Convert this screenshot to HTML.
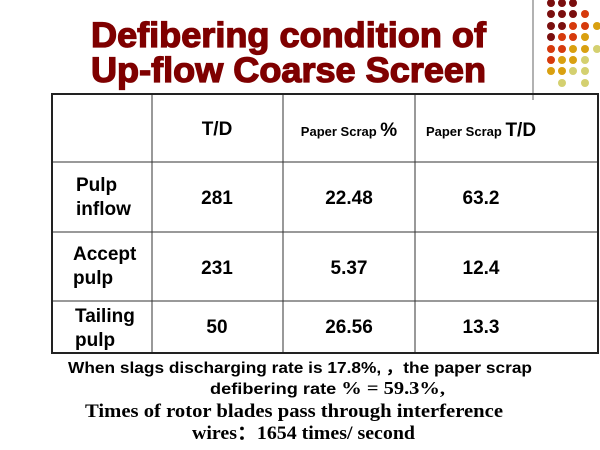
<!DOCTYPE html>
<html><head><style>body{margin:0;background:#fff}svg{display:block}</style></head>
<body>
<svg width="600" height="450" xmlns="http://www.w3.org/2000/svg" font-family="Liberation Sans, Arial, sans-serif">
<rect width="600" height="450" fill="#fff"/>
<line x1="533" y1="0" x2="533" y2="100" stroke="#999" stroke-width="1.5"/>
<g>
<circle cx="551" cy="3" r="4" fill="#7a0e0e"/><circle cx="562" cy="3" r="4" fill="#7a0e0e"/><circle cx="573" cy="3" r="4" fill="#7a0e0e"/>
<circle cx="551" cy="14" r="4" fill="#7a0e0e"/><circle cx="562" cy="14" r="4" fill="#7a0e0e"/><circle cx="573" cy="14" r="4" fill="#7a0e0e"/><circle cx="585" cy="14" r="4" fill="#d63a0c"/>
<circle cx="551" cy="26" r="4" fill="#7a0e0e"/><circle cx="562" cy="26" r="4" fill="#7a0e0e"/><circle cx="573" cy="26" r="4" fill="#d63a0c"/><circle cx="585" cy="26" r="4" fill="#d63a0c"/><circle cx="597" cy="26" r="4" fill="#d9a010"/>
<circle cx="551" cy="37" r="4" fill="#7a0e0e"/><circle cx="562" cy="37" r="4" fill="#d63a0c"/><circle cx="573" cy="37" r="4" fill="#d63a0c"/><circle cx="585" cy="37" r="4" fill="#d9a010"/>
<circle cx="551" cy="49" r="4" fill="#d63a0c"/><circle cx="562" cy="49" r="4" fill="#d63a0c"/><circle cx="573" cy="49" r="4" fill="#d9a010"/><circle cx="585" cy="49" r="4" fill="#d9a010"/><circle cx="597" cy="49" r="4" fill="#d4d070"/>
<circle cx="551" cy="60" r="4" fill="#d63a0c"/><circle cx="562" cy="60" r="4" fill="#d9a010"/><circle cx="573" cy="60" r="4" fill="#d9a010"/><circle cx="585" cy="60" r="4" fill="#d4d070"/>
<circle cx="551" cy="71" r="4" fill="#d9a010"/><circle cx="562" cy="71" r="4" fill="#d9a010"/><circle cx="573" cy="71" r="4" fill="#d4d070"/><circle cx="585" cy="71" r="4" fill="#d4d070"/>
<circle cx="562" cy="83" r="4" fill="#d4d070"/><circle cx="585" cy="83" r="4" fill="#d4d070"/>
</g>
<g fill="#7f0000" stroke="#7f0000" stroke-width="1.3" font-weight="bold" font-size="35">
<text x="91" y="47" textLength="395" lengthAdjust="spacingAndGlyphs">Defibering condition of</text>
<text x="91" y="82" textLength="395" lengthAdjust="spacingAndGlyphs">Up-flow Coarse Screen</text>
</g>
<g stroke="#333" stroke-width="1">
<line x1="152" y1="94" x2="152" y2="353"/><line x1="283" y1="94" x2="283" y2="353"/><line x1="415" y1="94" x2="415" y2="353"/>
<line x1="52" y1="162" x2="598" y2="162"/><line x1="52" y1="232" x2="598" y2="232"/><line x1="52" y1="301" x2="598" y2="301"/>
</g>
<rect x="52" y="94" width="546" height="259" fill="none" stroke="#222" stroke-width="2"/>
<g font-weight="bold" fill="#000" text-anchor="middle" font-size="19">
<text x="217" y="135">T/D</text>
<text x="349" y="136"><tspan font-size="13">Paper Scrap </tspan>%</text>
<text x="481" y="136"><tspan font-size="13">Paper Scrap </tspan>T/D</text>
<text x="217" y="204">281</text><text x="349" y="204">22.48</text><text x="481" y="204">63.2</text>
<text x="217" y="274">231</text><text x="349" y="274">5.37</text><text x="481" y="274">12.4</text>
<text x="217" y="333">50</text><text x="349" y="333">26.56</text><text x="481" y="333">13.3</text>
</g>
<g font-weight="bold" fill="#000" font-size="19">
<text x="76" y="191">Pulp</text><text x="76" y="215">inflow</text>
<text x="73" y="260">Accept</text><text x="73" y="284">pulp</text>
<text x="75" y="322">Tailing</text><text x="75" y="346">pulp</text>
</g>
<g fill="#000" font-weight="bold">
<text x="68" y="373" font-size="16" textLength="464" lengthAdjust="spacingAndGlyphs">When slags discharging rate is 17.8%, ，the paper scrap</text>
<text x="210" y="394" font-size="16" textLength="235" lengthAdjust="spacingAndGlyphs">defibering rate <tspan font-family="Liberation Serif, serif" font-size="18">% = 59.3%,</tspan></text>
<text x="85" y="417" font-size="19" font-family="Liberation Serif, serif" textLength="418" lengthAdjust="spacingAndGlyphs">Times of rotor blades pass through interference</text>
<text x="192" y="439" font-size="19" font-family="Liberation Serif, serif" textLength="223" lengthAdjust="spacingAndGlyphs">wires：1654 times/ second</text>
</g>
</svg>
</body></html>
